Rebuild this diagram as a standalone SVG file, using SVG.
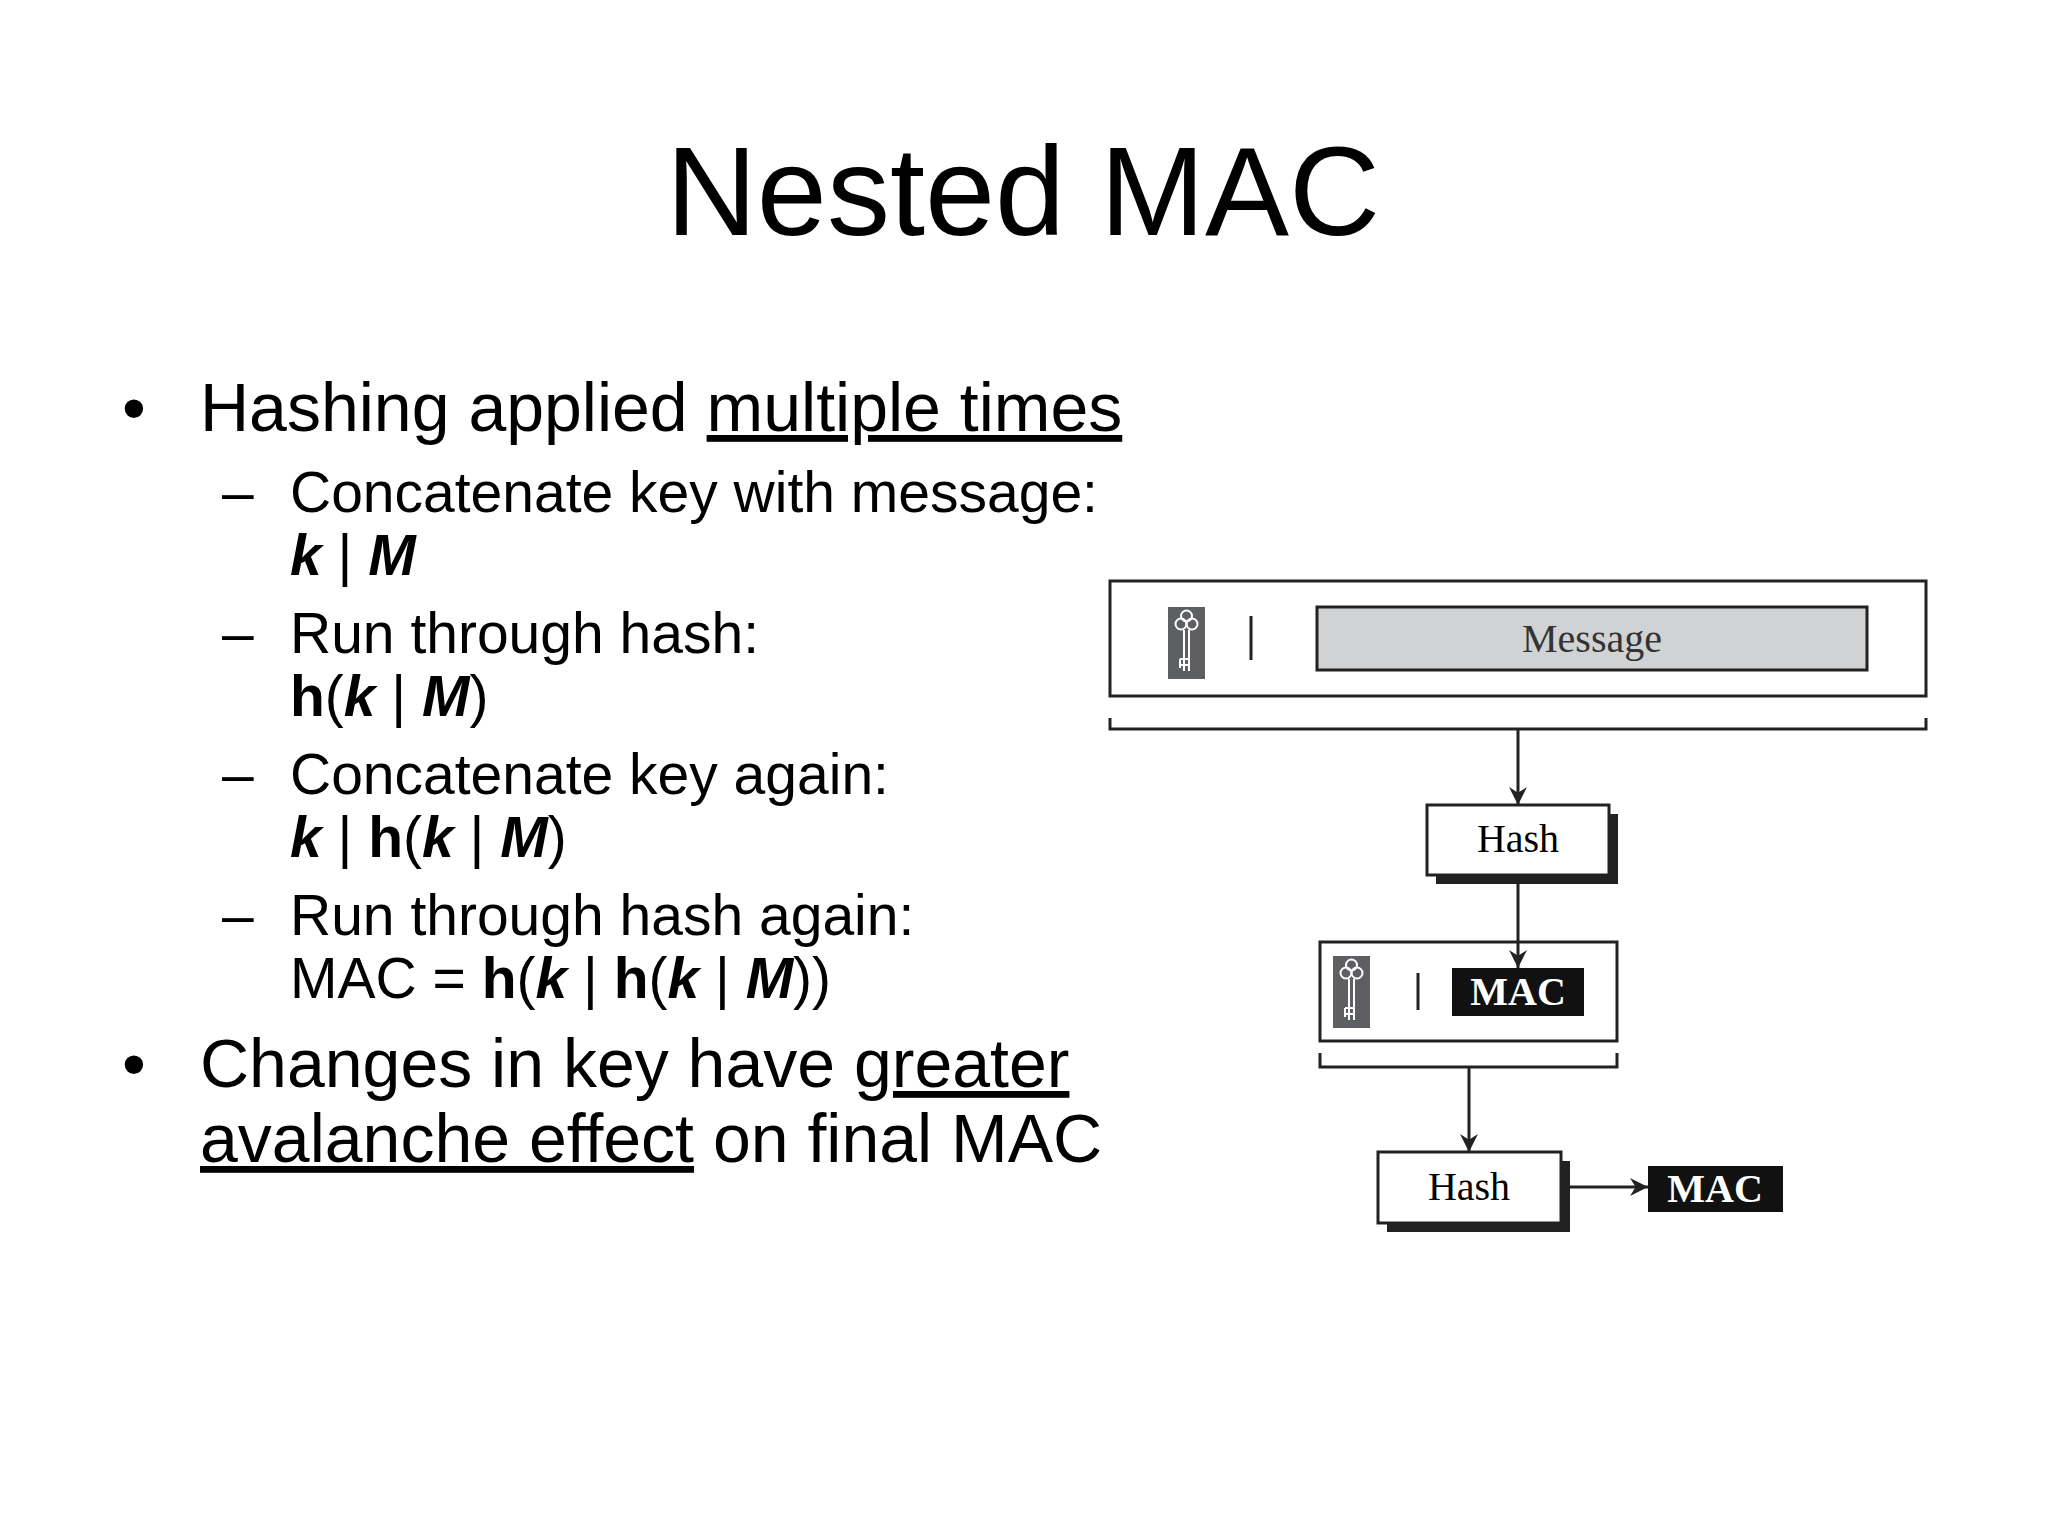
<svg xmlns="http://www.w3.org/2000/svg" width="2048" height="1536" viewBox="0 0 2048 1536">
<style>
.t{font-family:"Liberation Sans",Arial,sans-serif;fill:#000}
.b1{font-size:68px}
.b2{font-size:57px}
.d{font-family:"Liberation Serif","Times New Roman",serif;font-size:40px;text-anchor:middle}
.box{fill:#fff;stroke:#222;stroke-width:3}
.ln{stroke:#222;stroke-width:3;fill:none}
.kl{stroke:#fff;stroke-width:2;fill:none}
</style>
<defs>
<marker id="ah" markerWidth="18" markerHeight="18" refX="16" refY="8" orient="auto" markerUnits="userSpaceOnUse" viewBox="0 0 16 16">
<path d="M0,0 L16,8 L0,16 L5,8 Z" fill="#222"/>
</marker>
<g id="key">
<rect x="0" y="0" width="37" height="72" fill="#5d5f62"/>
<circle cx="13" cy="17" r="5.5" class="kl"/><circle cx="24" cy="17" r="5.5" class="kl"/><circle cx="18.5" cy="9" r="5.5" class="kl"/>
<path d="M16,23 V64 M21,23 V64 M21,52 H12 M21,58 H12 M12,52 V61" class="kl"/>
</g>
</defs>
<rect width="2048" height="1536" fill="#fff"/>
<text class="t" x="1023" y="235" font-size="126" text-anchor="middle">Nested MAC</text>
<g id="text">
<text class="t b1" x="122" y="431">•</text>
<text class="t b1" x="200" y="431">Hashing applied <tspan text-decoration="underline">multiple times</tspan></text>
<text class="t b2" x="222" y="512">–</text>
<text class="t b2" x="290" y="512">Concatenate key with message:</text>
<text class="t b2" x="290" y="575" font-weight="bold" font-style="italic">k <tspan font-weight="normal" font-style="normal">|</tspan> M</text>
<text class="t b2" x="222" y="653">–</text>
<text class="t b2" x="290" y="653">Run through hash:</text>
<text class="t b2" x="290" y="716"><tspan font-weight="bold">h</tspan>(<tspan font-weight="bold" font-style="italic">k</tspan> | <tspan font-weight="bold" font-style="italic">M</tspan>)</text>
<text class="t b2" x="222" y="794">–</text>
<text class="t b2" x="290" y="794">Concatenate key again:</text>
<text class="t b2" x="290" y="857"><tspan font-weight="bold" font-style="italic">k</tspan> | <tspan font-weight="bold">h</tspan>(<tspan font-weight="bold" font-style="italic">k</tspan> | <tspan font-weight="bold" font-style="italic">M</tspan>)</text>
<text class="t b2" x="222" y="935">–</text>
<text class="t b2" x="290" y="935">Run through hash again:</text>
<text class="t b2" x="290" y="998">MAC = <tspan font-weight="bold">h</tspan>(<tspan font-weight="bold" font-style="italic">k</tspan> | <tspan font-weight="bold">h</tspan>(<tspan font-weight="bold" font-style="italic">k</tspan> | <tspan font-weight="bold" font-style="italic">M</tspan>))</text>
<text class="t b1" x="122" y="1087">•</text>
<text class="t b1" x="200" y="1087">Changes in key have <tspan text-decoration="underline">greater</tspan></text>
<text class="t b1" x="200" y="1162"><tspan text-decoration="underline">avalanche effect</tspan> on final MAC</text>
</g>
<g id="input1">
<rect class="box" x="1110" y="581" width="816" height="115"/>
<use href="#key" x="1168" y="607"/>
<path class="ln" d="M1251,616 V660"/>
<rect x="1317" y="607" width="550" height="63" fill="#d0d2d3" stroke="#222" stroke-width="3"/>
<text class="d" x="1592" y="652" fill="#333">Message</text>
</g>
<g id="hash1">
<rect x="1436" y="814" width="182" height="70" fill="#222"/>
<rect class="box" x="1427" y="805" width="182" height="70"/>
<text class="d" x="1518" y="852">Hash</text>
</g>
<g id="input2">
<rect class="box" x="1320" y="942" width="297" height="99"/>
<use href="#key" x="1333" y="956"/>
<path class="ln" d="M1418,973 V1010"/>
<rect x="1452" y="968" width="132" height="48" fill="#111"/>
<text class="d" x="1518" y="1005" fill="#fff" font-weight="bold">MAC</text>
</g>
<g id="hash2">
<rect x="1387" y="1161" width="183" height="71" fill="#222"/>
<rect class="box" x="1378" y="1152" width="183" height="71"/>
<text class="d" x="1469" y="1200">Hash</text>
</g>
<g id="mac">
<rect x="1648" y="1166" width="135" height="46" fill="#111"/>
<text class="d" x="1715" y="1202" fill="#fff" font-weight="bold">MAC</text>
</g>
<g id="connectors">
<path class="ln" d="M1110,718 V729 H1926 V718"/>
<path class="ln" d="M1320,1053 V1067 H1617 V1053"/>
<path class="ln" d="M1518,729 V805" marker-end="url(#ah)"/>
<path class="ln" d="M1518,884 V968" marker-end="url(#ah)"/>
<path class="ln" d="M1469,1067 V1152" marker-end="url(#ah)"/>
<path class="ln" d="M1570,1187 H1648" marker-end="url(#ah)"/>
</g>
</svg>
